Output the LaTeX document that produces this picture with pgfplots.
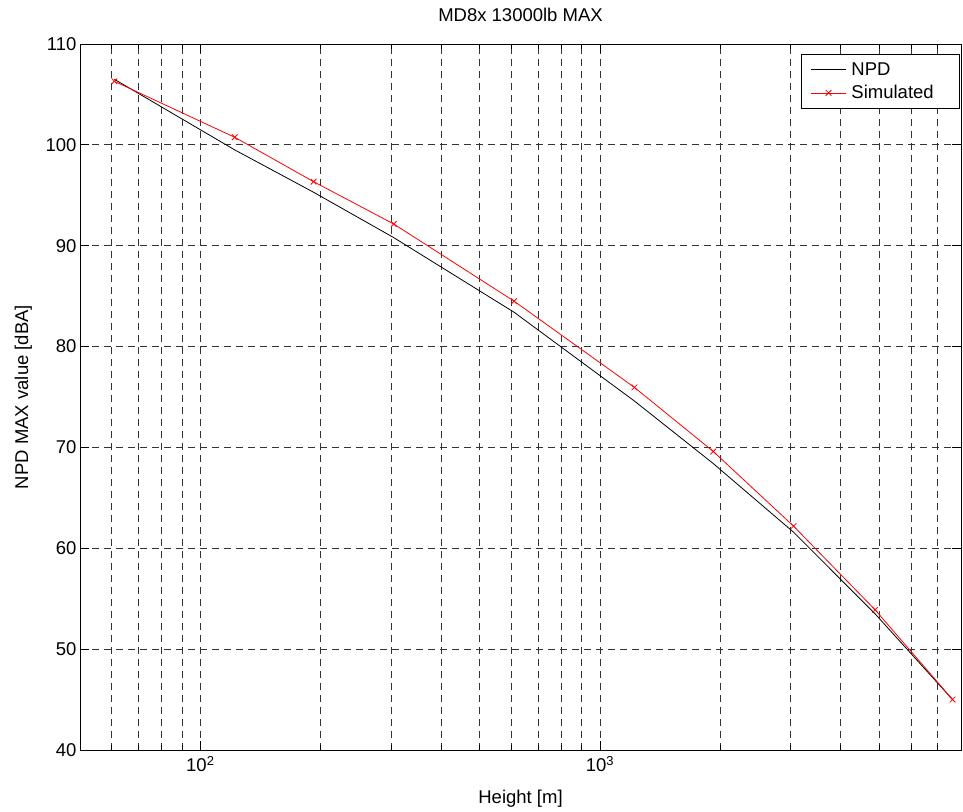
\documentclass[border=0pt]{standalone}
\usepackage{fontspec}
\setmainfont{Liberation Sans}
\usepackage{pgfplots}
\pgfplotsset{compat=1.18}
\usetikzlibrary{calc}

\begin{document}
\begin{tikzpicture}
\begin{axis}[
    scale only axis,
    width=881pt, height=706pt,
    xmode=log,
    xmin=50, xmax=8000,
    ymin=40, ymax=110,
    ytick={40,50,...,110},
    xtick={100,1000},
    minor xtick={60,70,80,90,200,300,400,500,600,700,800,900,2000,3000,4000,5000,6000,7000,8000},
    xticklabels={{10\textsuperscript{2}},{10\textsuperscript{3}}},
    xticklabel style={yshift=-3pt},
    font=\fontsize{18.5}{22}\selectfont,
    /pgf/number format/assume math mode=true,
    tick align=inside,
    major tick length=9pt,
    minor tick length=5pt,
    axis line style={line width=0.8pt},
    every tick/.style={black, line width=0.8pt},
    xmajorgrids=true, xminorgrids=true, ymajorgrids=true,
    major grid style={black!80, line width=0.8pt, dash pattern=on 7pt off 5pt},
    minor grid style={black!80, line width=0.8pt, dash pattern=on 7pt off 5pt},
    title={MD8x 13000lb MAX},
    title style={at={(axis description cs:0.5,1)}, anchor=base, yshift=16pt},
    xlabel={Height [m]},
    xlabel style={at={(axis description cs:0.5,-0.0751)}, anchor=base},
    ylabel={NPD MAX value [dBA]},
    ylabel style={at={(axis description cs:-0.059,0.5)}, anchor=base},
    legend cell align=left,
    legend style={at={(axis description cs:0.999,0.986)}, anchor=north east,
        draw=black, line width=0.8pt, inner xsep=9pt, inner ysep=4pt,
        row sep=1pt, nodes={inner xsep=5pt, inner ysep=4pt}},
    legend image code/.code={
        \draw[#1, mark repeat=2, mark phase=2] plot coordinates {(0pt,0pt) (17.5pt,0pt) (35pt,0pt)};
    },
]
\addplot[black, line width=0.8pt] coordinates {
    (60.96,106.5) (121.92,99.5) (192.02,95.3) (304.8,90.8) (609.6,83.4)
    (1219.2,74.6) (1920.24,68.4) (3048,61.6) (4876.8,53.5) (7620,45.0)
};
\addplot[red, line width=0.8pt, mark=x, mark size=4pt, mark options={solid}] coordinates {
    (60.96,106.3) (121.92,100.75) (192.02,96.35) (304.8,92.15) (609.6,84.5)
    (1219.2,75.95) (1920.24,69.6) (3048,62.2) (4876.8,53.9) (7620,45.0)
};
\legend{NPD, Simulated\hspace*{12pt}}
\end{axis}
\pgfresetboundingbox
\path[use as bounding box] ($(current axis.south west)+(-80pt,-62pt)$) rectangle ($(current axis.north east)+(2pt,44pt)$);
\end{tikzpicture}
\end{document}
